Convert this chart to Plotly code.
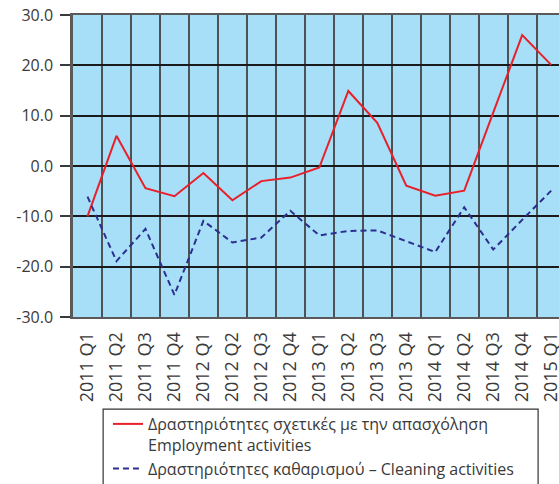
import plotly.graph_objects as go

quarters = [
    "2011 Q1", "2011 Q2", "2011 Q3", "2011 Q4",
    "2012 Q1", "2012 Q2", "2012 Q3", "2012 Q4",
    "2013 Q1", "2013 Q2", "2013 Q3", "2013 Q4",
    "2014 Q1", "2014 Q2", "2014 Q3", "2014 Q4",
    "2015 Q1",
]
employment = [-10.0, 6.0, -4.4, -6.0, -1.4, -6.8, -3.0, -2.3, -0.3,
              14.9, 8.6, -3.9, -5.9, -4.9, 10.6, 26.0, 20.1]
cleaning = [-6.1, -18.9, -12.5, -25.6, -10.9, -15.2, -14.2, -8.9, -13.8,
            -12.9, -12.8, -14.9, -17.1, -8.2, -16.6, -10.7, -4.9]

y_ticks = [-30, -20, -10, 0, 10, 20, 30]
y_tick_text = ["-30.0", "-20.0", "-10.0", "0.0", "10.0", "20.0", "30.0"]

name_employment = "Δραστηριότητες σχετικές με την απασχόληση<br>Employment activities"
name_cleaning = "Δραστηριότητες καθαρισμού – Cleaning activities"

FONT = "Open Sans"
TEXT = "#3a3a3a"

fig = go.Figure()
fig.add_trace(go.Scatter(
    x=quarters, y=employment, mode="lines", name=name_employment,
    line=dict(color="#e8202a", width=2),
))
fig.add_trace(go.Scatter(
    x=quarters, y=cleaning, mode="lines", name=name_cleaning,
    line=dict(color="#2b2f8f", width=2, dash="6px,4px"),
))

fig.update_layout(
    width=559, height=484,
    margin=dict(l=73, r=0, t=15, b=167, autoexpand=False),
    paper_bgcolor="white",
    plot_bgcolor="#a8dff8",
    font=dict(family=FONT, size=16, color=TEXT),
    showlegend=True,
    legend=dict(
        x=0.072, y=-0.298, xanchor="left", yanchor="top",
        bgcolor="rgba(0,0,0,0)", borderwidth=0,
        font=dict(family=FONT, size=16, color=TEXT),
        valign="top",
        tracegroupgap=0,
    ),
)

fig.update_xaxes(
    type="category",
    range=[-0.5, 16.27],
    automargin=False,
    tickson="boundaries",
    showgrid=True, gridcolor="#4d5257", gridwidth=2,
    ticks="", tickangle=-90,
    ticklabelstandoff=6,
    tickfont=dict(family=FONT, size=18, color=TEXT),
    showline=True, linecolor="#5a5a5a", linewidth=2, mirror=True,
)
fig.update_yaxes(
    range=[-30, 30],
    automargin=False,
    tickvals=y_ticks, ticktext=y_tick_text,
    showgrid=True, gridcolor="#1a1a1a", gridwidth=1.5,
    zeroline=False,
    ticks="outside", ticklen=10, tickwidth=1.5, tickcolor="#3a3a3a",
    ticklabelstandoff=4,
    tickfont=dict(family=FONT, size=16, color=TEXT),
    showline=True, linecolor="#5a5a5a", linewidth=2.5,
)

# Frame around the legend, running off the bottom of the page
fig.add_shape(
    type="rect", xref="paper", yref="paper",
    x0=0.062, x1=0.957, y0=-0.62, y1=-0.305,
    line=dict(color="#333333", width=1.2), fillcolor="rgba(0,0,0,0)",
)

fig.write_html("out.html")
